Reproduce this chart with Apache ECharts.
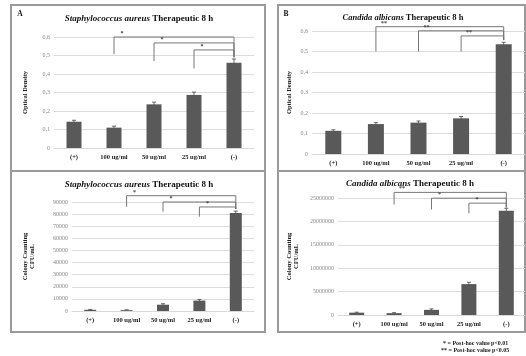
<!DOCTYPE html>
<html><head><meta charset="utf-8">
<script src="https://cdn.jsdelivr.net/npm/echarts@6/dist/echarts.min.js"></script>
<style>html,body{margin:0;padding:0;background:#fff}#c{width:526px;height:356px}</style>
</head><body><div id="c"></div>
<script>
// ---- data ----
const categories = ['(+)', '100 ug/ml', '50 ug/ml', '25 ug/ml', '(-)'];
const saOD = [0.142, 0.110, 0.236, 0.287, 0.461];
const saODErr = [0.008, 0.008, 0.012, 0.015, 0.020];
const caOD = [0.113, 0.146, 0.153, 0.174, 0.535];
const caODErr = [0.005, 0.007, 0.008, 0.009, 0.010];
const saCFU = [1000, 700, 5200, 8600, 81000];
const saCFUErr = [300, 300, 800, 1000, 1500];
const caCFU = [500000, 400000, 1100000, 6600000, 22300000];
const caCFUErr = [100000, 100000, 200000, 400000, 500000];
// brackets: [leftCat, rightCat, topY, leftBottomY, rightBottomY]
const saODBr = [[1,4,0.600,0.508,0.49],[2,4,0.568,0.470,0.49],[3,4,0.530,0.430,0.49]];
const saODBrLbl = ['*','*','*'];
const caODBr = [[1,4,0.621,0.500,0.556],[2,4,0.601,0.500,0.556],[3,4,0.576,0.500,0.556]];
const caODBrLbl = ['**','**','**'];
const saCFUBr = [[1,4,95200,86100,84200],[2,4,90000,82000,84200],[3,4,85900,77900,84200]];
const saCFUBrLbl = ['*','*','*'];
const caCFUBr = [[1,4,26200000,23600000,23000000],[2,4,24960000,22550000,23000000],[3,4,23900000,21700000,23000000]];
const caCFUBrLbl = ['**','*','*'];
const odTicks = {min:0, max:0.6, interval:0.1};
const saCFUTicks = {min:0, max:90000, interval:10000};
const caCFUTicks = {min:0, max:25000000, interval:5000000};

const FONT = 'Liberation Serif';
const BAR = '#595959';
const chart = echarts.init(document.getElementById('c'), null, {renderer:'canvas'});

const grids = [
  {left:54, top:37, width:200, height:111},
  {left:312, top:31, width:213, height:123},
  {left:72, top:202, width:182, height:109},
  {left:338, top:198, width:187, height:117}
];
function odFmt(v){ return v===0 ? '0' : v.toFixed(1).replace('.', ','); }
function intFmt(v){ return String(Math.round(v)); }
function xAx(i){
  return {gridIndex:i, type:'category', data:categories,
    axisLine:{lineStyle:{color:'#d9d9d9'}}, axisTick:{show:false},
    axisLabel:{fontFamily:FONT, fontWeight:'bold', fontSize:6.5, color:'#222', margin:6, interval:0}};
}
function yAx(i, t, fmt, name, gap){
  return {gridIndex:i, type:'value', min:t.min, max:t.max, interval:t.interval,
    name:name, nameLocation:'middle', nameGap:gap,
    nameTextStyle:{fontFamily:FONT, fontWeight:'bold', fontSize:6.5, color:'#222', lineHeight:7},
    axisLine:{show:false}, axisTick:{show:false},
    splitLine:{lineStyle:{color:'#dcdcdc', width:1}},
    axisLabel:{fontFamily:FONT, fontSize:6, color:'#888', margin:4, formatter:fmt}};
}
function barS(i, data, w){
  return {type:'bar', xAxisIndex:i, yAxisIndex:i, data:data, barWidth:w,
    itemStyle:{color:BAR}, silent:true};
}
function errS(i, vals, errs){
  return {type:'custom', xAxisIndex:i, yAxisIndex:i, silent:true, clip:false,
    data: vals.map((v,k)=>[k, v, errs[k]]),
    encode:{x:0, y:1},
    renderItem:function(params, api){
      const x = api.value(0), v = api.value(1), e = api.value(2);
      const hi = api.coord([x, v+e]), lo = api.coord([x, v-e]);
      const c = 2;
      const st = {stroke:'#444', lineWidth:0.8};
      return {type:'group', children:[
        {type:'line', shape:{x1:hi[0], y1:hi[1], x2:lo[0], y2:lo[1]}, style:st},
        {type:'line', shape:{x1:hi[0]-c, y1:hi[1], x2:hi[0]+c, y2:hi[1]}, style:st}
      ]};
    }};
}
function brS(i, br, lbls){
  return {type:'custom', xAxisIndex:i, yAxisIndex:i, silent:true, clip:false, z:5,
    data: br, encode:{x:[0,1], y:[2,3,4]},
    renderItem:function(params, api){
      const l = api.value(0), r = api.value(1), t = api.value(2), lb = api.value(3), rb = api.value(4);
      const p1 = api.coord([l, lb]), p2 = api.coord([l, t]), p3 = api.coord([r, t]), p4 = api.coord([r, rb]);
      const st = {stroke:'#777', lineWidth:1, fill:null};
      return {type:'group', children:[
        {type:'polyline', shape:{points:[p1,p2,p3,p4]}, style:st},
        {type:'text', x:p2[0]+8, y:p2[1]-0.5, style:{text:lbls[params.dataIndex], fontFamily:FONT, fontSize:6, fontWeight:'bold', fill:'#444', align:'center', verticalAlign:'bottom'}}
      ]};
    }};
}
function titleG(x, y, sp, size){
  return {type:'text', x:x, y:y, z:10, style:{
    text:'{i|'+sp+'}{b| Therapeutic 8 h}', align:'center', verticalAlign:'middle',
    rich:{i:{fontFamily:FONT, fontStyle:'italic', fontWeight:'bold', fontSize:size, fill:'#111'},
          b:{fontFamily:FONT, fontWeight:'bold', fontSize:size, fill:'#111'}}}};
}
function box(x1,y1,x2,y2){
  return {type:'rect', shape:{x:x1, y:y1, width:x2-x1, height:y2-y1}, z:-1,
    style:{fill:null, stroke:'#9a9a9a', lineWidth:2}};
}

chart.setOption({
  animation:false,
  grid:grids,
  xAxis:[xAx(0), xAx(1), xAx(2), xAx(3)],
  yAxis:[
    yAx(0, odTicks, odFmt, 'Optical Density', 25),
    yAx(1, odTicks, odFmt, 'Optical Density', 19),
    yAx(2, saCFUTicks, intFmt, 'Colony Counting\nCFU/mL', 36),
    yAx(3, caCFUTicks, intFmt, 'Colony Counting\nCFU/mL', 38)
  ],
  series:[
    barS(0, saOD, 15), errS(0, saOD, saODErr), brS(0, saODBr, saODBrLbl),
    barS(1, caOD, 16), errS(1, caOD, caODErr), brS(1, caODBr, caODBrLbl),
    barS(2, saCFU, 12), errS(2, saCFU, saCFUErr), brS(2, saCFUBr, saCFUBrLbl),
    barS(3, caCFU, 15), errS(3, caCFU, caCFUErr), brS(3, caCFUBr, caCFUBrLbl)
  ],
  graphic:[
    box(11,5,265,171), box(278,5,525,171), box(11,171,265,332), box(278,171,525,332),
    {type:'text', x:20, y:14, style:{text:'A', fontFamily:FONT, fontWeight:'bold', fontSize:7.5, fill:'#111', align:'center', verticalAlign:'middle'}},
    {type:'text', x:286, y:14, style:{text:'B', fontFamily:FONT, fontWeight:'bold', fontSize:7.5, fill:'#111', align:'center', verticalAlign:'middle'}},
    titleG(139, 19, 'Staphylococcus aureus', 9),
    titleG(403, 18, 'Candida albicans', 8.5),
    titleG(139, 185, 'Staphylococcus aureus', 9),
    titleG(410, 183.5, 'Candida albicans', 9),
    {type:'text', x:443, y:343, style:{text:'* = Post-hoc value p<0.01', fontFamily:FONT, fontWeight:'bold', fontSize:6, fill:'#222', verticalAlign:'middle'}},
    {type:'text', x:441, y:350, style:{text:'** = Post-hoc value p<0.05', fontFamily:FONT, fontWeight:'bold', fontSize:6, fill:'#222', verticalAlign:'middle'}}
  ]
});
</script></body></html>
